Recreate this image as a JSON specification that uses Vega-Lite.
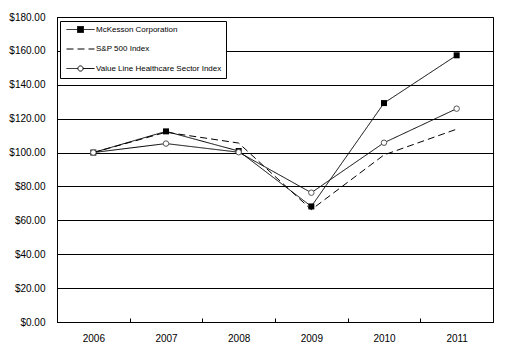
{
  "$schema": "https://vega.github.io/schema/vega-lite/v6.json",
  "width": 436,
  "height": 305,
  "autosize": {"type": "none"},
  "padding": {"left": 57, "top": 17, "right": 20, "bottom": 33},
  "background": "white",
  "config": {"view": {"stroke": "black", "strokeWidth": 1}, "font": "Liberation Sans"},
  "data": {
    "values": [
      {"year": "2006", "series": "McKesson Corporation", "value": 100},
      {"year": "2007", "series": "McKesson Corporation", "value": 112.5},
      {"year": "2008", "series": "McKesson Corporation", "value": 100.9},
      {"year": "2009", "series": "McKesson Corporation", "value": 68.2},
      {"year": "2010", "series": "McKesson Corporation", "value": 129.2},
      {"year": "2011", "series": "McKesson Corporation", "value": 157.4},
      {"year": "2006", "series": "S&P 500 Index", "value": 100},
      {"year": "2007", "series": "S&P 500 Index", "value": 112.0},
      {"year": "2008", "series": "S&P 500 Index", "value": 105.6},
      {"year": "2009", "series": "S&P 500 Index", "value": 66.3},
      {"year": "2010", "series": "S&P 500 Index", "value": 98.6},
      {"year": "2011", "series": "S&P 500 Index", "value": 113.8},
      {"year": "2006", "series": "Value Line Healthcare Sector Index", "value": 100},
      {"year": "2007", "series": "Value Line Healthcare Sector Index", "value": 105.3},
      {"year": "2008", "series": "Value Line Healthcare Sector Index", "value": 100.2},
      {"year": "2009", "series": "Value Line Healthcare Sector Index", "value": 76.3},
      {"year": "2010", "series": "Value Line Healthcare Sector Index", "value": 105.8},
      {"year": "2011", "series": "Value Line Healthcare Sector Index", "value": 125.9}
    ]
  },
  "encoding": {
    "x": {
      "field": "year",
      "type": "ordinal",
      "scale": {"type": "band", "paddingInner": 0, "paddingOuter": 0},
      "axis": {
        "title": null,
        "labelAngle": 0,
        "labelFontSize": 10,
        "labelColor": "black",
        "domainColor": "black",
        "tickColor": "black",
        "tickBand": "extent",
        "tickSize": -4,
        "labelPadding": 15,
        "grid": false
      }
    },
    "y": {
      "field": "value",
      "type": "quantitative",
      "scale": {"domain": [0, 180]},
      "axis": {
        "title": null,
        "values": [0, 20, 40, 60, 80, 100, 120, 140, 160, 180],
        "format": "$.2f",
        "labelFontSize": 10,
        "labelColor": "black",
        "ticks": false,
        "labelPadding": 12,
        "domainColor": "black",
        "grid": true,
        "gridColor": "black",
        "gridOpacity": 1,
        "gridWidth": 1
      }
    }
  },
  "layer": [
    {
      "mark": {"type": "line", "color": "black", "strokeWidth": 1},
      "encoding": {
        "strokeDash": {
          "field": "series",
          "type": "nominal",
          "scale": {
            "domain": ["McKesson Corporation", "S&P 500 Index", "Value Line Healthcare Sector Index"],
            "range": [[1, 0], [7, 4], [1, 0]]
          },
          "legend": {
            "title": null,
            "orient": "none",
            "legendX": 3,
            "legendY": 4,
            "fillColor": "white",
            "strokeColor": "black",
            "padding": 4,
            "symbolSize": 64,
            "symbolOffset": 12,
            "labelOffset": 11,
            "rowPadding": 9.5,
            "labelFontSize": 8,
            "labelColor": "black",
            "symbolStrokeColor": "black",
            "symbolStrokeWidth": 1,
            "cornerRadius": 0,
            "encode": {
              "symbols": {
                "update": {
                  "shape": [
                    {"test": "datum.value === 'McKesson Corporation'", "value": "M-3.5,0H3.5M-0.75,-0.75H0.75V0.75H-0.75Z"},
                    {"test": "datum.value === 'Value Line Healthcare Sector Index'", "value": "M-3.5,0H-0.65M0.65,0H3.5M0.65,0A0.65,0.65 0 1,1 -0.65,0A0.65,0.65 0 1,1 0.65,0Z"},
                    {"value": "M-3.5,0H3.5"}
                  ],
                  "fill": [
                    {"test": "datum.value === 'McKesson Corporation'", "value": "black"},
                    {"value": "white"}
                  ],
                  "stroke": {"value": "black"},
                  "strokeWidth": {"value": 1},
                  "strokeOpacity": {"value": 1},
                  "opacity": {"value": 1}
                }
              }
            }
          }
        }
      }
    },
    {
      "transform": [{"filter": "datum.series === 'McKesson Corporation'"}],
      "mark": {"type": "point", "shape": "square", "filled": true, "color": "black", "size": 36, "opacity": 1}
    },
    {
      "transform": [{"filter": "datum.series === 'Value Line Healthcare Sector Index'"}],
      "mark": {"type": "point", "shape": "circle", "filled": true, "fill": "white", "stroke": "#555", "strokeWidth": 1, "size": 30, "opacity": 1}
    }
  ]
}
